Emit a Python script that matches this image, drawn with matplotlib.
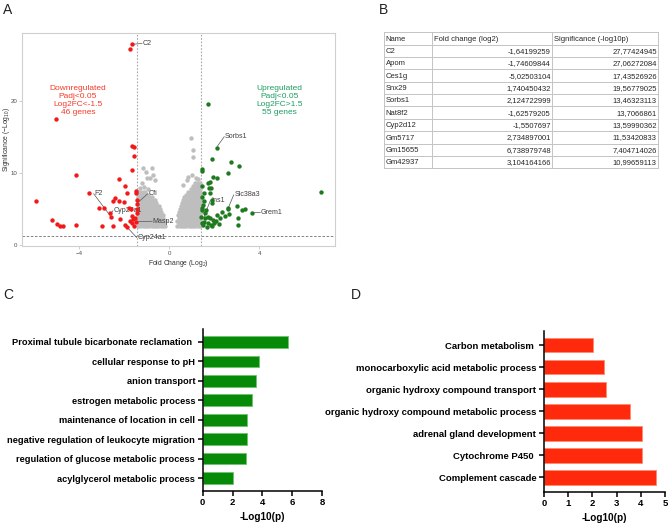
import matplotlib
matplotlib.use("Agg")
import matplotlib.pyplot as plt

plt.rcParams['font.family'] = ['Liberation Sans', 'DejaVu Sans']
plt.rcParams['mathtext.fontset'] = 'custom'
plt.rcParams['mathtext.rm'] = 'Liberation Sans'
plt.rcParams['mathtext.default'] = 'regular'

# ---- panel A: volcano plot data ----
red_x = [-1.642, -1.746, -5.025, -1.626, -1.551, -1.57, -1.63, -4.14, -2.24, -1.96,
         -1.47, -1.46, -3.57, -1.88, -5.92, -2.42, -2.49, -2.23, -2.0, -1.44,
         -1.44, -3.1, -2.89, -1.8, -1.71, -1.44, -2.63, -2.58, -2.18, -5.19,
         -4.97, -4.85, -4.73, -4.14, -2.98, -2.48, -1.95, -1.88, -1.56, -1.66,
         -1.52, -1.74, -1.63, -1.43, -1.47, -1.6]
red_y = [27.77, 27.06, 17.44, 13.71, 13.60, 12.37, 10.43, 9.70, 9.14, 8.22,
         7.48, 7.25, 7.2, 7.15, 6.1, 6.47, 6.15, 6.1, 5.92, 6.24,
         5.68, 5.09, 5.09, 5.14, 4.95, 4.95, 4.4, 3.93, 3.65, 3.47,
         2.92, 2.64, 2.64, 2.74, 2.7, 2.64, 2.74, 2.55, 2.7, 4.03,
         3.7, 3.38, 3.1, 4.4, 3.26, 3.6]

green_x = [1.74, 2.12, 1.92, 2.73, 3.10, 6.74, 1.45, 1.47, 2.6, 1.97,
           2.14, 1.82, 1.71, 1.45, 1.78, 1.84, 1.56, 1.80, 1.45, 1.89,
           1.92, 2.63, 2.63, 3.0, 3.25, 3.37, 3.67, 3.08, 3.05, 2.36,
           2.48, 2.66, 2.12, 2.26, 1.48, 1.60, 1.42, 1.74, 1.97, 1.56,
           2.01, 1.74, 1.86, 1.67, 1.48, 1.82, 1.60, 2.07, 1.52, 1.5,
           1.55, 1.65, 1.9, 2.2, 1.45]
green_y = [19.57, 13.46, 11.9, 11.53, 11.0, 7.40, 10.5, 10.25, 9.97, 9.46,
           9.33, 8.77, 8.55, 8.2, 7.9, 7.95, 7.16, 7.16, 6.6, 6.24,
           5.78, 5.17, 4.95, 5.45, 4.85, 4.99, 4.48, 3.79, 2.78, 4.62,
           4.02, 4.26, 4.16, 3.70, 4.85, 4.40, 3.93, 3.84, 3.47, 3.24,
           3.01, 3.01, 2.78, 2.55, 3.10, 3.70, 3.70, 3.33, 2.78, 5.6,
           6.1, 4.9, 2.6, 2.9, 5.2]

grey_left_rows = [
    (2.6, [-1.38, -1.28, -1.18, -1.08, -0.98, -0.88, -0.78, -0.68, -0.58, -0.48, -0.38, -0.28, -0.19]),
    (3.0, [-1.33, -1.23, -1.13, -1.03, -0.93, -0.83, -0.73, -0.63, -0.53, -0.43, -0.33, -0.23]),
    (3.4, [-1.38, -1.28, -1.18, -1.08, -0.98, -0.88, -0.78, -0.68, -0.58, -0.48, -0.38, -0.28, -0.2]),
    (3.8, [-1.33, -1.23, -1.13, -1.03, -0.93, -0.83, -0.73, -0.63, -0.53, -0.43, -0.33, -0.25]),
    (4.2, [-1.38, -1.28, -1.18, -1.08, -0.98, -0.88, -0.78, -0.68, -0.58, -0.48, -0.38, -0.29]),
    (4.6, [-1.33, -1.23, -1.13, -1.03, -0.93, -0.83, -0.73, -0.63, -0.53, -0.43, -0.34]),
    (5.0, [-1.38, -1.28, -1.18, -1.08, -0.98, -0.88, -0.78, -0.68, -0.58, -0.48, -0.4]),
    (5.4, [-1.33, -1.23, -1.13, -1.03, -0.93, -0.83, -0.73, -0.63, -0.53, -0.45]),
    (5.8, [-1.38, -1.28, -1.18, -1.08, -0.98, -0.88, -0.78, -0.68, -0.58]),
    (6.2, [-1.33, -1.23, -1.13, -1.03, -0.93, -0.83, -0.73, -0.64]),
    (6.6, [-1.38, -1.28, -1.18, -1.08, -0.98, -0.88, -0.78]),
    (7.0, [-1.33, -1.23, -1.13, -1.03, -0.93]),
    (7.4, [-1.38, -1.28, -1.18, -1.06]),
]
grey_left_out_x = [-1.3, -1.12, -0.95, -1.14, -0.77, -1.04, -0.85, -1.0, -0.7, -0.63, -1.2]
grey_left_out_y = [7.9, 8.0, 7.7, 10.6, 10.7, 10.15, 9.24, 9.24, 9.7, 9.0, 8.6]

grey_right_rows = [
    (2.6, [0.37, 0.47, 0.57, 0.67, 0.77, 0.87, 0.97, 1.07, 1.17, 1.27, 1.37]),
    (3.0, [0.42, 0.52, 0.62, 0.72, 0.82, 0.92, 1.02, 1.12, 1.22, 1.32, 1.4]),
    (3.4, [0.37, 0.47, 0.57, 0.67, 0.77, 0.87, 0.97, 1.07, 1.17, 1.27, 1.37]),
    (3.8, [0.42, 0.52, 0.62, 0.72, 0.82, 0.92, 1.02, 1.12, 1.22, 1.32, 1.4]),
    (4.2, [0.38, 0.47, 0.57, 0.67, 0.77, 0.87, 0.97, 1.07, 1.17, 1.27, 1.37]),
    (4.6, [0.42, 0.52, 0.62, 0.72, 0.82, 0.92, 1.02, 1.12, 1.22, 1.32, 1.4]),
    (5.0, [0.47, 0.57, 0.67, 0.77, 0.87, 0.97, 1.07, 1.17, 1.27, 1.37]),
    (5.4, [0.52, 0.62, 0.72, 0.82, 0.92, 1.02, 1.12, 1.22, 1.32, 1.4]),
    (5.8, [0.57, 0.67, 0.77, 0.87, 0.97, 1.07, 1.17, 1.27, 1.37]),
    (6.2, [0.62, 0.72, 0.82, 0.92, 1.02, 1.12, 1.22, 1.32, 1.4]),
    (6.6, [0.67, 0.77, 0.87, 0.97, 1.07, 1.17, 1.27, 1.37]),
    (7.0, [0.77, 0.87, 0.97, 1.07, 1.17, 1.27, 1.37]),
    (7.4, [0.86, 0.96, 1.06, 1.16, 1.26, 1.36]),
    (7.8, [0.96, 1.06, 1.16, 1.26, 1.36]),
    (8.2, [1.06, 1.16, 1.26, 1.36]),
    (8.6, [1.16, 1.26, 1.36]),
]
grey_right_out_x = [0.97, 1.08, 1.08, 0.85, 0.78, 1.0, 0.63, 1.3, 1.2]
grey_right_out_y = [14.77, 13.15, 12.2, 9.46, 9.0, 9.7, 8.3, 9.1, 9.3]

volcano_labels = [
    # name, point end of leader, text position
    ("C2", (-1.55, 27.8), (-1.2, 27.9)),
    ("Sorbs1", (2.15, 13.7), (2.45, 15.0)),
    ("Slc38a3", (2.65, 5.3), (2.87, 6.95)),
    ("Grem1", (3.75, 4.48), (4.05, 4.5)),
    ("Ins1", (1.55, 3.9), (1.83, 6.15)),
    ("Cfi", (-1.42, 5.8), (-0.95, 7.1)),
    ("F2", (-2.56, 3.85), (-3.35, 7.1)),
    ("Cyp27a1", (-2.6, 4.3), (-2.5, 4.75)),
    ("Masp2", (-1.42, 3.26), (-0.75, 3.3)),
    ("Cyp24a1", (-1.9, 2.6), (-1.44, 1.05)),
]

# ---- panel B: table ----
tab_header = ["Name", "Fold change (log2)", "Significance (-log10p)"]
tab_names = ["C2", "Apom", "Ces1g", "Snx29", "Sorbs1", "Nat8f2", "Cyp2d12",
             "Gm5717", "Gm15655", "Gm42937"]
tab_fc = ["-1,64199259", "-1,74609844", "-5,02503104", "1,740450432", "2,124722999",
          "-1,62579205", "-1,5507697", "2,734897001", "6,738979748", "3,104164166"]
tab_sig = ["27,77424945", "27,06272084", "17,43526926", "19,56779025", "13,46323113",
           "13,7066861", "13,59990362", "11,53420833", "7,404714026", "10,99659113"]

# ---- panel C / D: enrichment bars ----
up_terms = ["Proximal tubule bicarbonate reclamation ", "cellular response to pH",
            "anion transport", "estrogen metabolic process",
            "maintenance of location in cell", "negative regulation of leukocyte migration",
            "regulation of glucose metabolic process", "acylglycerol metabolic process"]
up_vals = [5.72, 3.78, 3.57, 3.28, 3.0, 3.0, 2.9, 2.0]

down_terms = ["Carbon metabolism ", "monocarboxylic acid metabolic process",
              "organic hydroxy compound transport",
              "organic hydroxy compound metabolic process",
              "adrenal gland development", "Cytochrome P450 ", "Complement cascade"]
down_vals = [2.02, 2.46, 2.58, 3.54, 4.03, 4.06, 4.64]

W, H = 668, 524
fig = plt.figure(figsize=(W / 100, H / 100), dpi=100)


def box(l, t, r, b):
    return [l / W, 1 - b / H, (r - l) / W, (b - t) / H]


# ===== A =====
axA = fig.add_axes(box(22.3, 33.3, 335, 245.7))
gx, gy = [], []
for y, xs in grey_left_rows + grey_right_rows:
    gx += xs
    gy += [y] * len(xs)
gx += grey_left_out_x + grey_right_out_x
gy += grey_left_out_y + grey_right_out_y
axA.scatter(gx, gy, s=10, c='#BEBEBE', linewidths=0, zorder=2)
axA.scatter(red_x, red_y, s=10, c='#F2191B', linewidths=0, zorder=4)
axA.scatter(green_x, green_y, s=10, c='#1F7A1F', linewidths=0, zorder=4)
for xv in (-1.42, 1.42):
    axA.axvline(xv, color='#A8A8A8', ls=(0, (1.5, 1.5)), lw=0.8, zorder=1)
axA.axhline(1.32, color='#707070', ls=(0, (3, 2)), lw=0.6, zorder=1)
for name, (px, py), (tx, ty) in volcano_labels:
    axA.plot([px, tx], [py, ty], color='#555555', lw=0.5, zorder=3)
    axA.text(tx + 0.03, ty, name, fontsize=5.1, color='#404040', ha='left',
             va='center', zorder=3)
axA.text(-4.05, 20.0, "Downregulated\nPadj<0.05\nLog2FC<-1.5\n46 genes",
         color='#F53B2A', fontsize=6, ha='center', va='center', linespacing=1.25)
axA.text(4.9, 20.0, "Upregulated\nPadj<0.05\nLog2FC>1.5\n55 genes",
         color='#1E9E62', fontsize=6, ha='center', va='center', linespacing=1.25)
axA.set_xlim(-6.52, 7.37)
axA.set_ylim(-0.08, 29.3)
axA.set_xticks([-4, 0, 4])
axA.set_yticks([0, 10, 20])
axA.tick_params(labelsize=4.4, labelcolor='#505050', color='#BBBBBB', length=2,
                width=0.5, pad=1.5)
for sp in axA.spines.values():
    sp.set_color('#CFCFCF')
    sp.set_linewidth(0.8)
axA.set_xlabel("Fold Change (Log$_2$)", fontsize=4.9, color='#333333', labelpad=2)
axA.set_ylabel("Significance (\u2212Log$_{10}$)", fontsize=4.9, color='#333333',
               va='center')
axA.yaxis.set_label_coords(-0.052, 0.5)

# ===== B =====
axB = fig.add_axes(box(384, 32.3, 658.3, 168.3))
axB.set_xlim(0, 274.3)
axB.set_ylim(136, 0)
axB.axis('off')
col_edges = [0, 48, 168.3, 274.3]
row_h = 136 / 11
for i in range(12):
    axB.plot([0, 274.3], [i * row_h, i * row_h], color='#C4C4C4', lw=0.7,
             clip_on=False)
for xe in col_edges:
    axB.plot([xe, xe], [0, 136], color='#C4C4C4', lw=0.7, clip_on=False)
tfs = 5.5
for j, h in enumerate(tab_header):
    axB.text(col_edges[j] + 1.5, 0.55 * row_h, h, fontsize=tfs, va='center',
             ha='left', color='#262626')
for i in range(len(tab_names)):
    yc = (i + 1.55) * row_h
    axB.text(1.5, yc, tab_names[i], fontsize=tfs, va='center', ha='left', color='#262626')
    axB.text(col_edges[2] - 1.5, yc, tab_fc[i], fontsize=tfs, va='center', ha='right',
             color='#262626')
    axB.text(col_edges[3] - 1.5, yc, tab_sig[i], fontsize=tfs, va='center', ha='right',
             color='#262626')


# ===== C / D =====
def bar_panel(ax, terms, vals, color, edge, xmax, height, pad, fs):
    n = len(terms)
    ax.barh(range(n), vals, height=height, color=color, edgecolor=edge,
            linewidth=0.6)
    ax.set_ylim(n - 1 + pad, -pad)
    ax.set_xlim(0, xmax)
    ax.set_yticks(range(n))
    ax.set_yticklabels(terms, fontweight='bold', fontsize=fs)
    ax.set_xticks(range(0, xmax + 1, 2 if xmax > 5 else 1))
    for lab in ax.get_xticklabels():
        lab.set_fontweight('bold')
    ax.tick_params(axis='x', labelsize=6.8)
    ax.tick_params(length=3.5, width=1.1, pad=2)
    ax.spines['top'].set_visible(False)
    ax.spines['right'].set_visible(False)
    ax.spines['left'].set_linewidth(1.1)
    ax.spines['bottom'].set_linewidth(1.1)
    ax.set_xlabel("-Log10(p)", fontsize=7.2, fontweight='bold', labelpad=3.5)


axC = fig.add_axes(box(202.7, 329.3, 322, 490.7))
bar_panel(axC, up_terms, up_vals, '#078A07', '#6CC46C', 8, 0.6, 0.65, 6.65)
axD = fig.add_axes(box(544, 330.7, 665, 491.7))
bar_panel(axD, down_terms, down_vals, '#FF2A0C', '#FF8A70', 5, 0.67, 0.65, 6.8)

# panel letters
for letter, x, y in [("A", 8, 10), ("B", 383, 10), ("C", 8, 295), ("D", 356, 295)]:
    fig.text(x / W, 1 - y / H, letter, fontsize=10, ha='center', va='center',
             color='#222222')

fig.savefig("out.png", dpi=100)
